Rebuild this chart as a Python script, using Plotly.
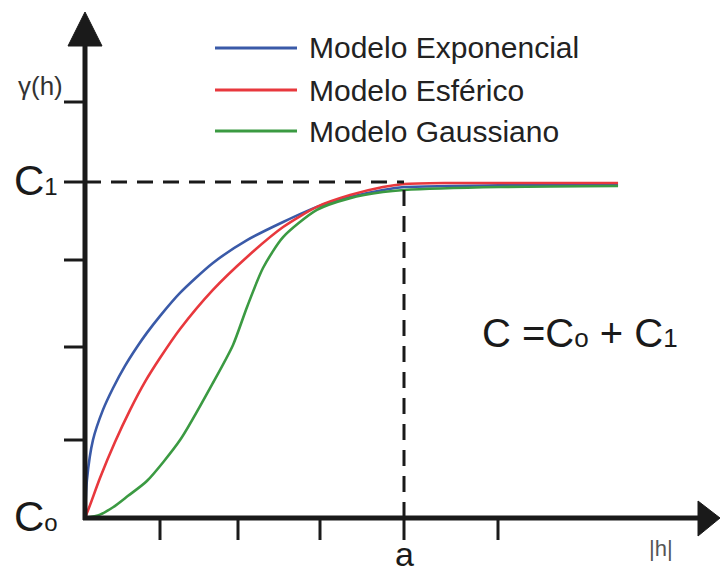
import plotly.graph_objects as go

# ---- data (h normalized by range a=1, gamma normalized by sill C1=1) ----
h_exp = [0, 0.006, 0.025, 0.056, 0.088, 0.125, 0.163, 0.194, 0.235, 0.298, 0.401, 0.508, 0.621, 0.727, 0.831, 0.934, 1.0, 1.144, 1.364, 1.671]
g_exp = [0, 0.113, 0.232, 0.321, 0.387, 0.452, 0.509, 0.551, 0.601, 0.670, 0.759, 0.827, 0.881, 0.926, 0.955, 0.976, 0.985, 0.988, 0.991, 0.991]

h_sph = [0, 0.016, 0.047, 0.094, 0.141, 0.188, 0.235, 0.298, 0.401, 0.508, 0.621, 0.727, 0.831, 0.934, 1.0, 1.144, 1.671]
g_sph = [0, 0.039, 0.119, 0.226, 0.321, 0.405, 0.476, 0.5625, 0.679, 0.777, 0.866, 0.926, 0.961, 0.985, 0.994, 0.997, 0.997]

h_gau = [0, 0.047, 0.088, 0.135, 0.194, 0.298, 0.401, 0.464, 0.508, 0.558, 0.621, 0.727, 0.831, 0.934, 1.0, 1.301, 1.671]
g_gau = [0, 0.010, 0.032, 0.066, 0.110, 0.232, 0.402, 0.515, 0.628, 0.744, 0.836, 0.917, 0.952, 0.970, 0.976, 0.985, 0.988]

series_names = ["Modelo Exponencial", "Modelo Esférico", "Modelo Gaussiano"]
series_colors = ["#3a5aa8", "#e8383d", "#3b9a42"]

W, H = 720, 574
def px(x):
    return x / W
def py(y):
    return 1 - y / H

fig = go.Figure()
for hx, gy, name, col in zip([h_exp, h_sph, h_gau], [g_exp, g_sph, g_gau], series_names, series_colors):
    fig.add_trace(go.Scatter(x=hx, y=gy, mode="lines", name=name,
                             line=dict(color=col, width=2.6, shape="spline", smoothing=0.7),
                             showlegend=False, hoverinfo="skip"))

shapes = []
black = "#1a1a1a"
# axes
shapes.append(dict(type="line", xref="paper", yref="paper", x0=px(85), y0=py(520), x1=px(85), y1=py(40),
                   line=dict(color=black, width=5)))
shapes.append(dict(type="line", xref="paper", yref="paper", x0=px(83), y0=py(518), x1=px(705), y1=py(518),
                   line=dict(color=black, width=5)))
# arrowheads
shapes.append(dict(type="path", xref="paper", yref="paper",
                   path=f"M {px(85)},{py(12)} L {px(68)},{py(46)} L {px(102)},{py(46)} Z",
                   fillcolor=black, line=dict(color=black, width=1)))
shapes.append(dict(type="path", xref="paper", yref="paper",
                   path=f"M {px(720)},{py(518)} L {px(698)},{py(501)} L {px(698)},{py(536)} Z",
                   fillcolor=black, line=dict(color=black, width=1)))
# y ticks
for yy in [102, 182, 260, 347, 440]:
    shapes.append(dict(type="line", xref="paper", yref="paper", x0=px(64), y0=py(yy), x1=px(85), y1=py(yy),
                       line=dict(color=black, width=3)))
# x ticks
for xx in [160, 238, 320, 404, 498]:
    shapes.append(dict(type="line", xref="paper", yref="paper", x0=px(xx), y0=py(518), x1=px(xx), y1=py(540),
                       line=dict(color=black, width=3)))
# dashed guides (sill and range)
shapes.append(dict(type="line", xref="x", yref="y", x0=0, y0=1, x1=1, y1=1,
                   line=dict(color=black, width=3, dash="16px,10px")))
shapes.append(dict(type="line", xref="x", yref="y", x0=1, y0=0, x1=1, y1=1,
                   line=dict(color=black, width=3, dash="16px,10px")))
# legend lines
for yy, col in zip([48, 90, 131], series_colors):
    shapes.append(dict(type="line", xref="paper", yref="paper", x0=px(215), y0=py(yy), x1=px(297), y1=py(yy),
                       line=dict(color=col, width=3)))

ann = []
font_main = "Liberation Sans, Arial, sans-serif"
for yy, name in zip([48, 90, 131], series_names):
    ann.append(dict(x=px(307), y=py(yy), xref="paper", yref="paper", text=name, showarrow=False,
                    xanchor="left", yanchor="middle", font=dict(size=30, color="#222", family=font_main)))

def lab(x, y, text, size, color="#1a1a1a", xanchor="center"):
    ann.append(dict(x=px(x), y=py(y), xref="paper", yref="paper", text=text, showarrow=False,
                    xanchor=xanchor, yanchor="middle", font=dict(size=size, color=color, family=font_main)))

lab(40, 86, "γ(h)", 26, "#333")
lab(12, 180, "C<span style='font-size:24px'>1</span>", 42, xanchor="left")
lab(12, 516, "C<span style='font-size:24px'>o</span>", 42, xanchor="left")
lab(480, 333, "C =C<span style='font-size:26px'>o</span> + C<span style='font-size:26px'>1</span>", 40, xanchor="left")
lab(404, 554, "a", 34)
lab(661, 548, "|h|", 22, "#555")

x0 = -85 / 319
x1 = (720 - 85) / 319
y1 = 518 / 336
y0 = -(574 - 518) / 336
fig.update_layout(
    width=W, height=H, margin=dict(l=0, r=0, t=0, b=0),
    paper_bgcolor="white", plot_bgcolor="white",
    xaxis=dict(range=[x0, x1], visible=False, fixedrange=True),
    yaxis=dict(range=[y0, y1], visible=False, fixedrange=True),
    shapes=shapes, annotations=ann, showlegend=False,
)
fig.write_html("out.html")
